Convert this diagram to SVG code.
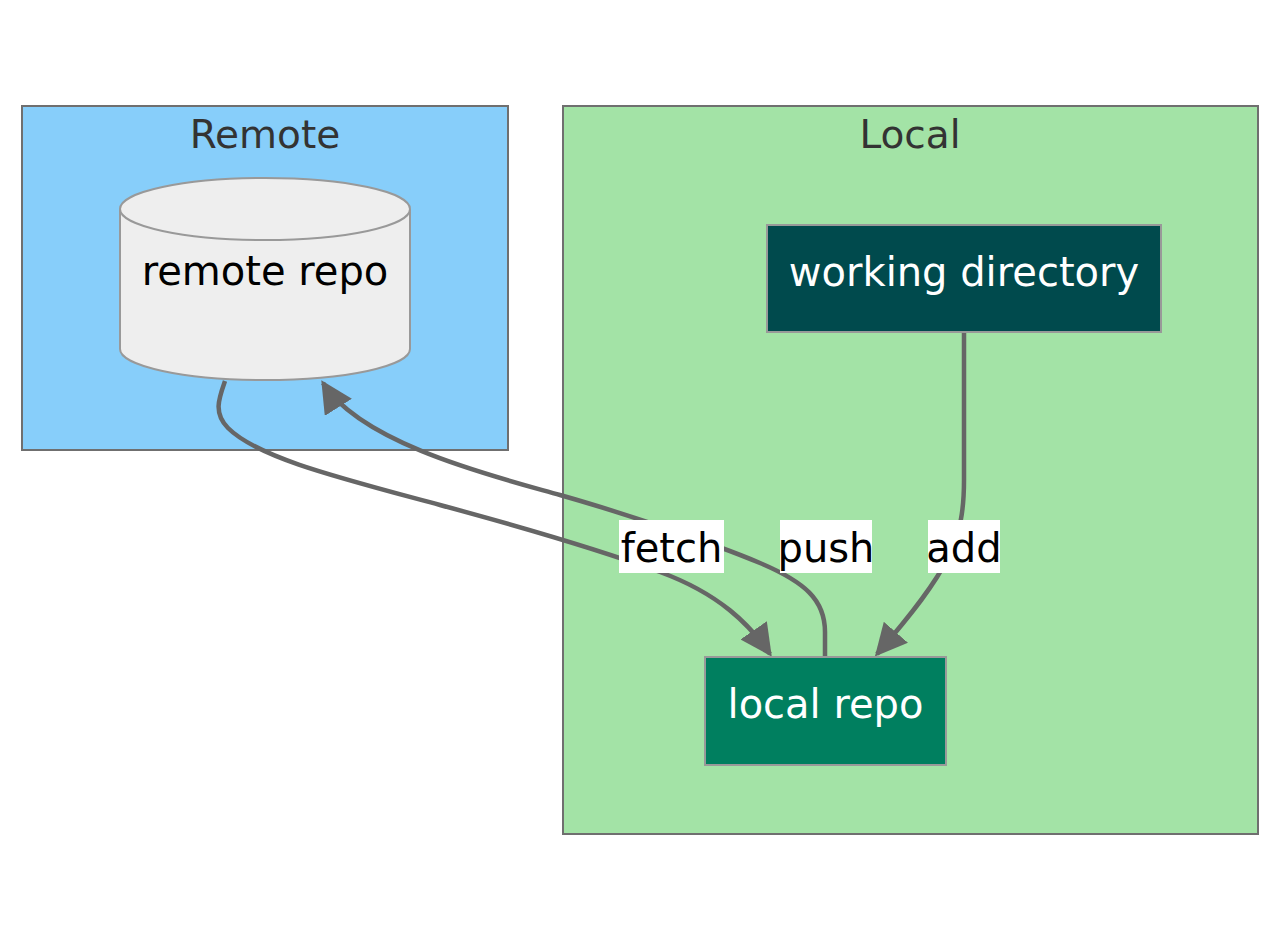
<svg xmlns="http://www.w3.org/2000/svg" width="1281" height="942" viewBox="0 0 1281 942">
<defs>
<style>
.cluster{stroke:#6f6f6f;stroke-width:2}
.ctitle{font-family:"DejaVu Sans",sans-serif;font-size:39px;fill:#333;text-anchor:middle}
.ntext{font-family:"DejaVu Sans",sans-serif;font-size:40px;text-anchor:middle}
.edge{fill:none;stroke:#666;stroke-width:4.5;stroke-linecap:butt}
.lbg{fill:#fff}
.ltext{font-family:"DejaVu Sans",sans-serif;font-size:40px;fill:#000;text-anchor:middle}
</style>
<marker id="arrow" viewBox="0 0 10 10" refX="9" refY="5" markerWidth="32" markerHeight="32" markerUnits="userSpaceOnUse" orient="auto">
<path d="M0,0 L10,5 L0,10 z" fill="#666"/>
</marker>
</defs>
<rect width="1281" height="942" fill="#fff"/>
<g id="cluster-remote">
<rect class="cluster" x="22" y="106" width="486" height="344" fill="#87cefa"/>
<text class="ctitle" x="265" y="148">Remote</text>
</g>
<g id="cluster-local">
<rect class="cluster" x="563" y="106" width="695" height="728" fill="#a3e3a6"/>
<text class="ctitle" x="910" y="148">Local</text>
</g>
<g id="connectors">
<path class="edge" d="M225,381 C219,398 213,413 228,428 C258,458 340,478 440,505 C540,532 600,550 660,572 C720,594 750,625 770,654" marker-end="url(#arrow)"/>
<path class="edge" d="M825,657 L825,632 C825,600 805,582 760,563 C710,542 620,512 560,495 C500,478 362,445 323,383" marker-end="url(#arrow)"/>
<path class="edge" d="M964,332 L964,480 C964,540 950,570 877,654" marker-end="url(#arrow)"/>
<g id="label-fetch"><rect class="lbg" x="619" y="520" width="105" height="53"/><text class="ltext" x="671.5" y="562">fetch</text></g>
<g id="label-push"><rect class="lbg" x="780" y="520" width="92" height="53"/><text class="ltext" x="826" y="562">push</text></g>
<g id="label-add"><rect class="lbg" x="928" y="520" width="72" height="53"/><text class="ltext" x="964" y="562">add</text></g>
</g>
<g id="node-remote-repo">
<path d="M120,209 A145,31 0 0 1 410,209 L410,349 A145,31 0 0 1 120,349 Z" fill="#eee" stroke="#999" stroke-width="2"/>
<path d="M120,209 A145,31 0 0 0 410,209" fill="none" stroke="#999" stroke-width="2"/>
<text class="ntext" x="265" y="285" fill="#000">remote repo</text>
</g>
<g id="node-working-directory">
<rect x="767" y="225" width="394" height="107" fill="#004a4d" stroke="#999" stroke-width="2"/>
<text class="ntext" x="964" y="286" fill="#fff">working directory</text>
</g>
<g id="node-local-repo">
<rect x="705" y="657" width="241" height="108" fill="#007f5f" stroke="#999" stroke-width="2"/>
<text class="ntext" x="825.5" y="718" fill="#fff">local repo</text>
</g>
</svg>
